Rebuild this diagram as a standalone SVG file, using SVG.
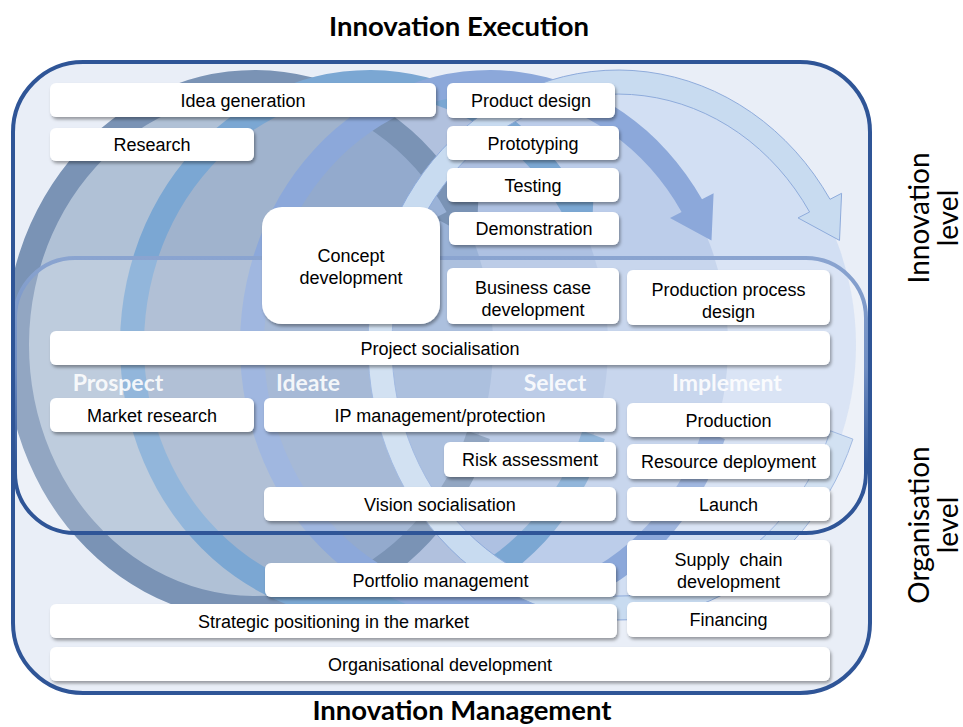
<svg xmlns="http://www.w3.org/2000/svg" width="963" height="727" viewBox="0 0 963 727">
<style>
.title{font-family:Lato,"Open Sans","Liberation Sans",sans-serif;font-weight:bold;font-size:27.5px;fill:#000;text-anchor:middle}
.side{font-family:Lato,"Open Sans","Liberation Sans",sans-serif;font-size:28px;fill:#000;text-anchor:middle}
.phase{font-family:Lato,"Open Sans","Liberation Sans",sans-serif;font-weight:bold;font-size:23px;fill:#fff;fill-opacity:0.88;text-anchor:middle}
.box rect{fill:#fff;filter:url(#sh)}
.box text{font-family:"Liberation Sans",Arial,sans-serif;font-size:18px;fill:#000;text-anchor:middle}
</style>
<defs>
<filter id="sh" x="-10%" y="-20%" width="120%" height="150%">
<feDropShadow dx="1.5" dy="2.5" stdDeviation="1.4" flood-color="#000" flood-opacity="0.35"/>
</filter>
<clipPath id="outerClip"><rect x="13" y="62" width="857" height="631" rx="70"/></clipPath>
<linearGradient id="innerStroke" gradientUnits="userSpaceOnUse" x1="0" y1="258" x2="0" y2="533">
<stop offset="0" stop-color="#8AA4D0"/>
<stop offset="0.4" stop-color="#6F8DC2"/>
<stop offset="0.75" stop-color="#2F5597"/>
<stop offset="1" stop-color="#2F5597"/>
</linearGradient>
<path id="band" d="M 234.9 439.1 A 250 275 0 1 1 212 199.3 L 223.6 193.3 L 221.5 240.4 L 180 217.9 L 191.6 212 A 226 251 0 1 0 212.4 430.8 Z"/>
</defs>

<rect x="13" y="62" width="857" height="631" rx="70" fill="#E9EEF7"/>

<g id="cycle" clip-path="url(#outerClip)">
<ellipse cx="255" cy="345" rx="238" ry="263" fill="#6E8CAF" fill-opacity="0.46"/>
<ellipse cx="370" cy="345" rx="238" ry="263" fill="#6E8CB4" fill-opacity="0.25"/>
<ellipse cx="490" cy="345" rx="238" ry="263" fill="#7896CD" fill-opacity="0.3"/>
<ellipse cx="618" cy="345" rx="238" ry="263" fill="#AAC3EB" fill-opacity="0.35"/>
<use href="#band" transform="translate(255,0)" fill="#7A93B5"/>
<use href="#band" transform="translate(370,0)" fill="#7BA7D3"/>
<use href="#band" transform="translate(490,0)" fill="#8CA8DA"/>
<use href="#band" transform="translate(618,0)" fill="#C8DBF0" stroke="#8EABDB" stroke-width="1"/>
</g>

<rect id="innovation-level-area" x="15" y="258" width="851" height="275" rx="60" fill="#fff" fill-opacity="0.18" stroke="url(#innerStroke)" stroke-width="4"/>
<rect id="outer-frame" x="13" y="62" width="857" height="631" rx="70" fill="none" stroke="#2F5597" stroke-width="4"/>

<text class="title" x="459" y="36">Innovation Execution</text>
<text class="title" x="462" y="720">Innovation Management</text>

<text class="side" transform="translate(929,218) rotate(-90)"><tspan x="0" y="0">Innovation</tspan><tspan x="0" y="29">level</tspan></text>
<text class="side" transform="translate(929,525) rotate(-90)"><tspan x="0" y="0">Organisation</tspan><tspan x="0" y="29">level</tspan></text>

<g id="phases">
<text class="phase" x="118" y="391">Prospect</text>
<text class="phase" x="308" y="391">Ideate</text>
<text class="phase" x="555" y="391">Select</text>
<text class="phase" x="727" y="391">Implement</text>
</g>

<g id="idea-generation" class="box"><rect x="50" y="83" width="386" height="34" rx="6"/><text x="243" y="106.5">Idea generation</text></g>
<g id="product-design" class="box"><rect x="447" y="83" width="168" height="35" rx="6"/><text x="531" y="107">Product design</text></g>
<g id="research" class="box"><rect x="50" y="128" width="204" height="33" rx="6"/><text x="152" y="151">Research</text></g>
<g id="prototyping" class="box"><rect x="447" y="126" width="172" height="34" rx="6"/><text x="533" y="149.5">Prototyping</text></g>
<g id="testing" class="box"><rect x="447" y="168" width="172" height="34" rx="6"/><text x="533" y="191.5">Testing</text></g>
<g id="demonstration" class="box"><rect x="449" y="212" width="170" height="33" rx="6"/><text x="534" y="235">Demonstration</text></g>
<g id="concept-development" class="box"><rect x="262" y="207" width="178" height="117" rx="20"/><text x="351" y="261.5">Concept</text><text x="351" y="283.5">development</text></g>
<g id="business-case" class="box"><rect x="447" y="268" width="172" height="56" rx="6"/><text x="533" y="293.5">Business case</text><text x="533" y="315.5">development</text></g>
<g id="production-process-design" class="box"><rect x="627" y="270" width="203" height="55" rx="6"/><text x="728.5" y="295.5">Production process</text><text x="728.5" y="317.5">design</text></g>
<g id="project-socialisation" class="box"><rect x="50" y="331" width="780" height="34" rx="6"/><text x="440" y="354.5">Project socialisation</text></g>
<g id="market-research" class="box"><rect x="50" y="398" width="204" height="34" rx="6"/><text x="152" y="421.5">Market research</text></g>
<g id="ip-management" class="box"><rect x="264" y="398" width="352" height="34" rx="6"/><text x="440" y="421.5">IP management/protection</text></g>
<g id="production" class="box"><rect x="627" y="403" width="203" height="34" rx="6"/><text x="728.5" y="426.5">Production</text></g>
<g id="risk-assessment" class="box"><rect x="444" y="442" width="172" height="35" rx="6"/><text x="530" y="466">Risk assessment</text></g>
<g id="resource-deployment" class="box"><rect x="627" y="444" width="203" height="35" rx="6"/><text x="728.5" y="468">Resource deployment</text></g>
<g id="vision-socialisation" class="box"><rect x="264" y="487" width="352" height="34" rx="6"/><text x="440" y="510.5">Vision socialisation</text></g>
<g id="launch" class="box"><rect x="627" y="487" width="203" height="34" rx="6"/><text x="728.5" y="510.5">Launch</text></g>
<g id="supply-chain" class="box"><rect x="627" y="540" width="203" height="56" rx="6"/><text x="728.5" y="565.5" xml:space="preserve">Supply  chain</text><text x="728.5" y="587.5">development</text></g>
<g id="portfolio-management" class="box"><rect x="265" y="563" width="351" height="34" rx="6"/><text x="440.5" y="586.5">Portfolio management</text></g>
<g id="strategic-positioning" class="box"><rect x="50" y="604" width="567" height="34" rx="6"/><text x="333.5" y="627.5">Strategic positioning in the market</text></g>
<g id="financing" class="box"><rect x="627" y="602" width="203" height="35" rx="6"/><text x="728.5" y="626">Financing</text></g>
<g id="organisational-development" class="box"><rect x="50" y="647" width="780" height="34" rx="6"/><text x="440" y="670.5">Organisational development</text></g>
</svg>
